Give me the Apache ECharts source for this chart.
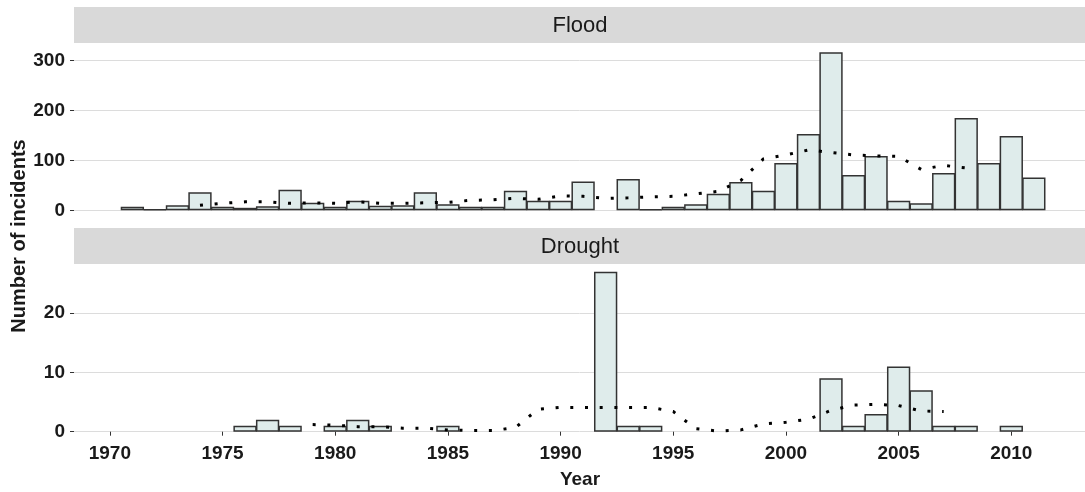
<!DOCTYPE html>
<html>
<head>
<meta charset="utf-8">
<script src="https://cdn.jsdelivr.net/npm/echarts@6/dist/echarts.min.js"></script>
<style>
  html, body { margin: 0; padding: 0; background: #fff; }
  #chart { width: 1085px; height: 492px; }
</style>
</head>
<body>
<div id="chart"></div>
<script>
const chart = echarts.init(document.getElementById('chart'))

const font = 'Liberation Sans, Arial, sans-serif'
const textColor = '#1a1a1a'

// yearly counts
const floodStart = 1971
const floodCounts = [7, 2, 10, 36, 7, 5, 8, 41, 15, 7, 19, 9, 10, 36, 12, 7, 7, 39, 19, 19,
  58, 0, 63, 2, 7, 12, 33, 57, 39, 95, 153, 317, 71, 109, 19, 14, 75, 185, 95, 149, 66]
const droughtStart = 1976
const droughtCounts = [1, 2, 1, 0, 1, 2, 1, 0, 0, 1, 0, 0, 0, 0, 0, 0, 27, 1, 1, 0, 0, 0, 0, 0,
  0, 0, 9, 1, 3, 11, 7, 1, 1, 0, 1]

// dotted trend lines
const floodTrendStart = 1974
const floodTrend = [10, 14, 17, 17, 14, 15, 14, 17, 14, 14, 15, 16, 20, 21, 24, 22, 29, 28, 24,
  25, 27, 28, 33, 38, 60, 103, 111, 121, 116, 111, 109, 108, 82, 90, 85]
const droughtTrendStart = 1979
const droughtTrend = [1.2, 1.1, 0.85, 0.85, 0.6, 0.6, 0.3, 0.2, 0.2, 0.7, 3.8, 4.1, 4.1, 4.1,
  4.1, 4.1, 3.4, 0.5, 0.1, 0.3, 1.3, 1.6, 2.1, 3.6, 4.5, 4.6, 4.4, 3.5, 3.4]

const yearTicks = [1970, 1975, 1980, 1985, 1990, 1995, 2000, 2005, 2010]
const floodTicks = [0, 100, 200, 300]
const droughtTicks = [0, 10, 20]

function toPairs(start, values, dropZero) {
  const out = []
  values.forEach((v, i) => {
    if (!dropZero || v > 0) out.push([start + i, v])
  })
  return out
}

const xMin = 1968.41
const xMax = 2013.27

function xAxisFor(gridIndex, showLabels) {
  return {
    type: 'value',
    gridIndex,
    min: xMin,
    max: xMax,
    offset: showLabels ? 6 : 0,
    axisLine: { show: false },
    splitLine: { show: false },
    axisTick: {
      show: showLabels,
      length: 4,
      customValues: yearTicks,
      lineStyle: { color: '#333', width: 1 },
    },
    axisLabel: {
      show: showLabels,
      customValues: yearTicks,
      margin: 7,
      fontFamily: font,
      fontWeight: 'bold',
      fontSize: 19,
      color: textColor,
      formatter: v => String(v),
    },
  }
}

function yAxisFor(gridIndex, max, ticks) {
  return {
    type: 'value',
    gridIndex,
    min: 0,
    max,
    axisLine: { show: false },
    axisTick: {
      show: true,
      length: 4,
      customValues: ticks,
      lineStyle: { color: '#333', width: 1 },
    },
    axisLabel: {
      customValues: ticks,
      margin: 9,
      fontFamily: font,
      fontWeight: 'bold',
      fontSize: 19,
      color: textColor,
    },
    splitLine: {
      show: true,
      lineStyle: { color: '#dcdcdc', width: 1 },
    },
    interval: ticks[1] - ticks[0],
  }
}

const barStyle = {
  color: '#dfeceb',
  borderColor: '#333',
  borderWidth: 1.5,
}

const trendStyle = {
  color: '#000',
  width: 3,
  type: [3, 11.7],
  cap: 'butt',
}

const option = {
  animation: false,
  backgroundColor: '#fff',
  grid: [
    { left: 74, right: 0, top: 43, height: 167.3 },
    { left: 74, right: 0, top: 264, height: 167.7 },
  ],
  xAxis: [xAxisFor(0, false), xAxisFor(1, true)],
  yAxis: [yAxisFor(0, 335.5, floodTicks), yAxisFor(1, 28.3, droughtTicks)],
  graphic: [
    { type: 'rect', shape: { x: 74, y: 7, width: 1011, height: 36 }, style: { fill: '#d9d9d9' } },
    { type: 'rect', shape: { x: 74, y: 228, width: 1011, height: 36 }, style: { fill: '#d9d9d9' } },
    {
      type: 'text', x: 580, y: 26,
      style: { text: 'Flood', font: '22px ' + font, fill: textColor, align: 'center', verticalAlign: 'middle' },
    },
    {
      type: 'text', x: 580, y: 247,
      style: { text: 'Drought', font: '22px ' + font, fill: textColor, align: 'center', verticalAlign: 'middle' },
    },
    {
      type: 'text', x: 580, y: 480,
      style: { text: 'Year', font: 'bold 19px ' + font, fill: textColor, align: 'center', verticalAlign: 'middle' },
    },
    {
      type: 'text', x: 19, y: 236, rotation: Math.PI / 2,
      style: { text: 'Number of incidents', font: 'bold 20px ' + font, fill: textColor, align: 'center', verticalAlign: 'middle' },
    },
  ],
  series: [
    {
      type: 'bar',
      xAxisIndex: 0,
      yAxisIndex: 0,
      barWidth: 23.3,
      itemStyle: barStyle,
      data: toPairs(floodStart, floodCounts, true),
    },
    {
      type: 'line',
      xAxisIndex: 0,
      yAxisIndex: 0,
      symbol: 'none',
      z: 3,
      lineStyle: trendStyle,
      data: toPairs(floodTrendStart, floodTrend, false),
    },
    {
      type: 'bar',
      xAxisIndex: 1,
      yAxisIndex: 1,
      barWidth: 23.3,
      itemStyle: barStyle,
      data: toPairs(droughtStart, droughtCounts, true),
    },
    {
      type: 'line',
      xAxisIndex: 1,
      yAxisIndex: 1,
      symbol: 'none',
      z: 3,
      lineStyle: trendStyle,
      data: toPairs(droughtTrendStart, droughtTrend, false),
    },
  ],
}

chart.setOption(option)
</script>
</body>
</html>
